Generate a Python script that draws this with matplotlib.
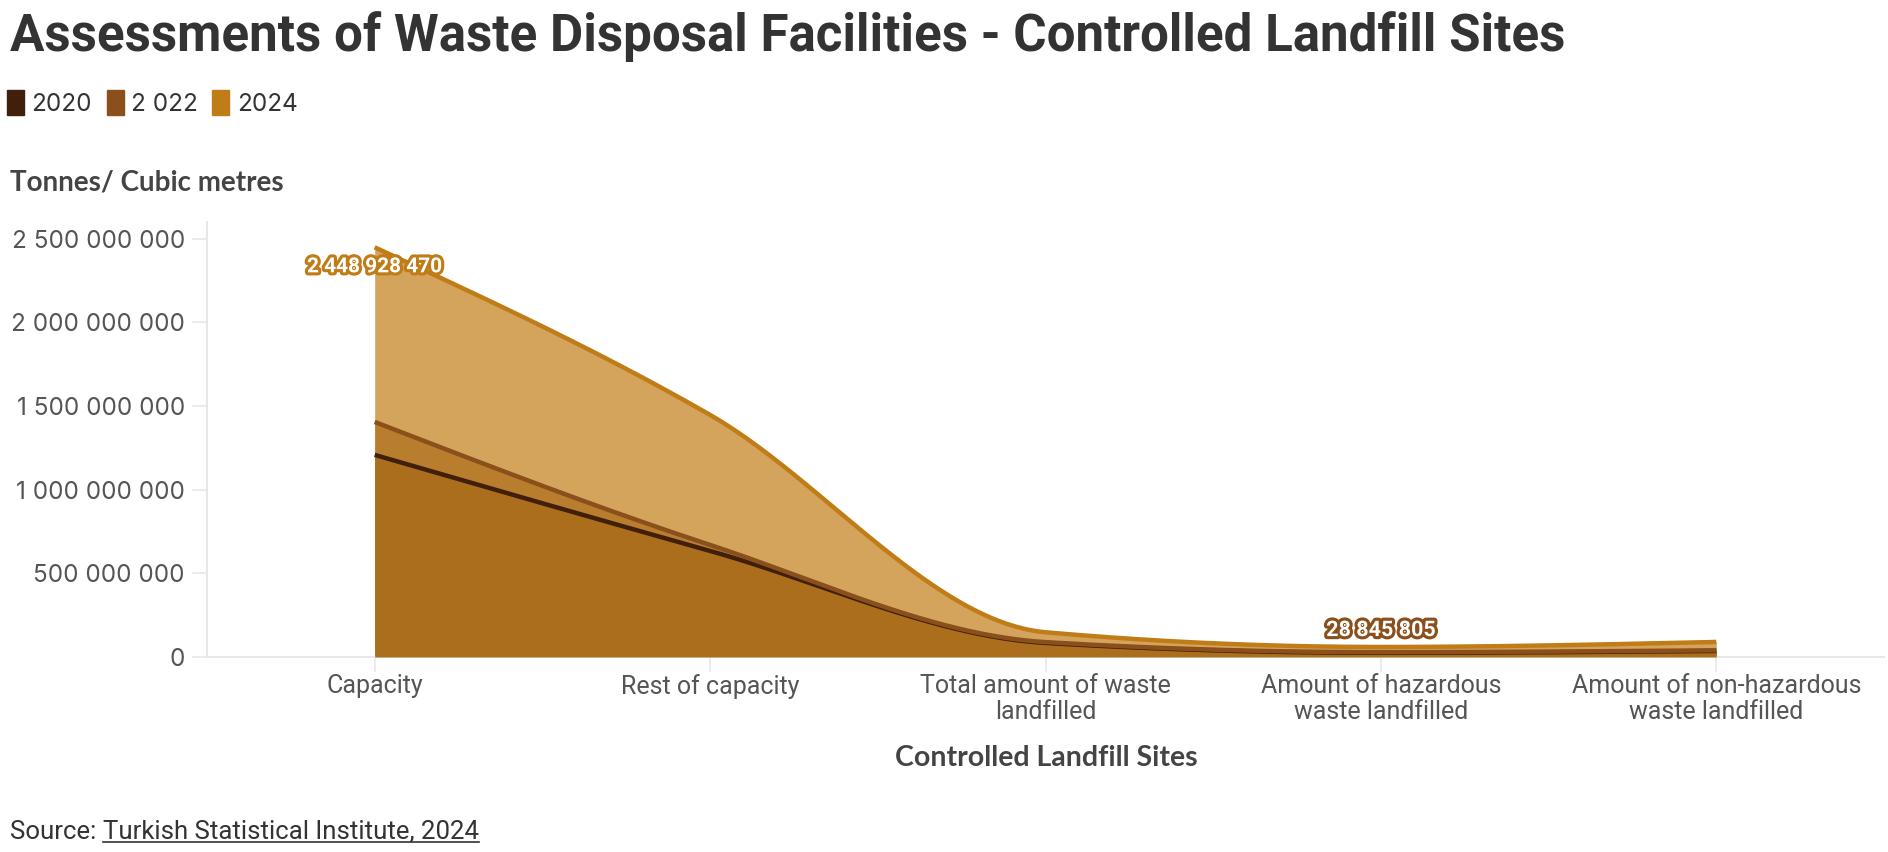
import numpy as np
import matplotlib
matplotlib.use("Agg")
import matplotlib.pyplot as plt
from matplotlib import patheffects
from matplotlib.patches import Patch
from matplotlib.lines import Line2D

categories = ["Capacity", "Rest of capacity", "Total amount of waste\nlandfilled",
              "Amount of hazardous\nwaste landfilled", "Amount of non-hazardous\nwaste landfilled"]
series_names = ["2020", "2 022", "2024"]
v2020 = [1208000000, 634000000, 84000000, 25000000, 36000000]
v2022 = [1405000000, 670000000, 89000000, 28845805, 40000000]
v2024 = [2448928470, 1447000000, 148000000, 60000000, 90000000]
yticks = [0, 500000000, 1000000000, 1500000000, 2000000000, 2500000000]

line_colors = ["#40200a", "#8a4f1a", "#c07d17"]
fill_colors = ["#ab6e1c", "#b97d2e", "#d4a35c"]


def monotone(xs, ys, n=80):
    # monotone cubic (like d3 curveMonotoneX), only for drawing the path
    xs = np.asarray(xs, float)
    ys = np.asarray(ys, float)
    h = np.diff(xs)
    d = np.diff(ys)/h
    m = np.zeros(len(xs))
    for k in range(1, len(xs)-1):
        p = (d[k-1]*h[k] + d[k]*h[k-1])/(h[k-1]+h[k])
        m[k] = (np.sign(d[k-1])+np.sign(d[k]))*min(abs(d[k-1]), abs(d[k]), 0.5*abs(p))
    m[0] = (3*d[0] - m[1])/2
    m[-1] = (3*d[-1] - m[-2])/2
    px, py = [], []
    for k in range(len(xs)-1):
        t = np.linspace(0, 1, n, endpoint=(k == len(xs)-2))
        h00 = 2*t**3-3*t**2+1
        h10 = t**3-2*t**2+t
        h01 = -2*t**3+3*t**2
        h11 = t**3-t**2
        px.append(xs[k]+t*h[k])
        py.append(h00*ys[k]+h10*h[k]*m[k]+h01*ys[k+1]+h11*h[k]*m[k+1])
    return np.concatenate(px), np.concatenate(py)


W, H = 1888, 852
fig = plt.figure(figsize=(W/100, H/100), dpi=100)
ax = fig.add_axes([207/W, 1-657/H, (1884-207)/W, (657-222)/H])

x = np.arange(len(categories))
series = [v2020, v2022, v2024]

# fills: biggest first so smaller ones sit on top
for i in [2, 1, 0]:
    sx, sy = monotone(x, series[i])
    ax.fill_between(sx, 0, sy, color=fill_colors[i], linewidth=0, zorder=1+(2-i))
for i in [0, 1, 2]:
    sx, sy = monotone(x, series[i])
    ax.plot(sx, sy, color=line_colors[i], linewidth=3.2, solid_capstyle="butt", zorder=5+i)

ax.set_xlim(-0.5, 4.5)
ax.set_ylim(0, 2.6e9)
ax.set_xticks(x)
ax.set_xticklabels(categories, fontsize=18, color="#555555", family="Roboto", linespacing=1.1)
ax.set_yticks(yticks)
ax.set_yticklabels([f"{v:,.0f}".replace(",", " ") for v in yticks], fontsize=17.5,
                   color="#555555", family="Inter")
ax.tick_params(axis="both", length=11, width=1.2, color="#e8e8e8")
ax.tick_params(axis="x", pad=1)
ax.tick_params(axis="y", pad=5)
for s in ["top", "right"]:
    ax.spines[s].set_visible(False)
for s in ["left", "bottom"]:
    ax.spines[s].set_color("#e8e8e8")
    ax.spines[s].set_linewidth(1.5)

# data labels
ax.text(x[0], v2024[0] - 0.06e9, f"{v2024[0]:,}".replace(",", " "), ha="center", va="top",
        fontsize=15, fontweight="bold", family="Roboto", color="white", zorder=10,
        path_effects=[patheffects.withStroke(linewidth=4.5, foreground=line_colors[2])])
ax.annotate(f"{v2022[3]:,}".replace(",", " "), (x[3], v2022[3]), xytext=(0, 8),
            textcoords="offset points", ha="center", va="bottom",
            fontsize=15.5, fontweight="bold", family="Roboto", color="white", zorder=10,
            path_effects=[patheffects.withStroke(linewidth=4.5, foreground=line_colors[1])])

# titles
fig.text(10/W, 1-51/H, "Assessments of Waste Disposal Facilities - Controlled Landfill Sites",
         fontsize=36.8, fontweight="bold", family="Roboto", color="#333333", va="baseline")
fig.text(10/W, 1-183/H, "Tonnes/ Cubic metres", fontsize=20, fontweight="bold",
         family="Lato", color="#444444", va="center")
fig.text(1046/W, 1-758/H, "Controlled Landfill Sites", fontsize=20.5, fontweight="bold",
         family="Lato", color="#444444", va="center", ha="center")

# legend
handles = [Patch(facecolor=c, edgecolor=c) for c in line_colors]
fig.legend(handles, series_names, loc="center left", bbox_to_anchor=(0.0, 1-103/H),
           ncol=3, frameon=False, handlelength=0.7, handleheight=1.2,
           handletextpad=0.3, columnspacing=0.6, borderaxespad=0, borderpad=0.3,
           prop={"family": "Inter", "size": 17.5})
for t in fig.legends[0].get_texts():
    t.set_color("#333333")

# source line with underlined link text
r = fig.canvas.get_renderer()
t1 = fig.text(10/W, 1-832/H, "Source: ", fontsize=18.5, family="Roboto", color="#333333",
              va="center")
bb = t1.get_window_extent(r)
t2 = fig.text(bb.x1/W, 1-832/H, "Turkish Statistical Institute, 2024", fontsize=18.5,
              family="Roboto", color="#333333", va="center")
bb2 = t2.get_window_extent(r)
fig.add_artist(Line2D([bb2.x0/W, bb2.x1/W], [(bb2.y0+2)/H, (bb2.y0+2)/H],
                      color="#333333", linewidth=1.2))

fig.savefig("out.png", dpi=100)
